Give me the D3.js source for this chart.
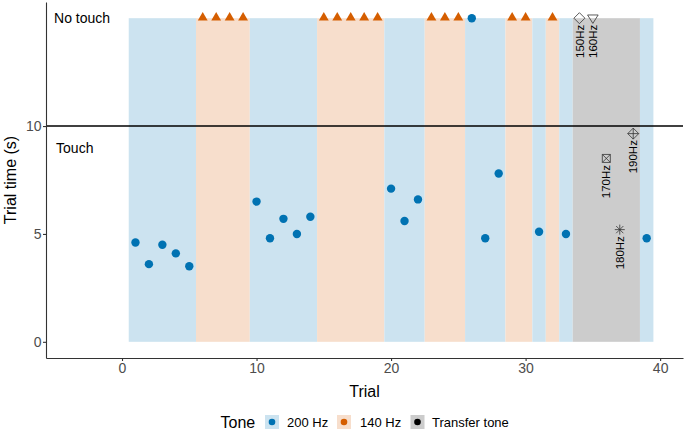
<!DOCTYPE html>
<html>
<head>
<meta charset="utf-8">
<script src="https://cdn.jsdelivr.net/npm/d3@7"></script>
<style>
  body { margin: 0; background: #fff; }
  svg { font-family: "Liberation Sans", Arial, sans-serif; }
</style>
</head>
<body>
<div id="chart"></div>
<script>
// trial blocks (background shading)
var blockStart = [0.5, 5.5, 9.5, 14.5, 19.5, 22.5, 25.5, 28.5, 30.5, 31.5, 32.5, 33.5, 38.5];
var blockEnd   = [5.5, 9.5, 14.5, 19.5, 22.5, 25.5, 28.5, 30.5, 31.5, 32.5, 33.5, 38.5, 39.5];
var blockTone  = ["200", "140", "200", "140", "200", "140", "200", "140", "200", "140", "200", "transfer", "200"];

// 200 Hz trials
var trials200 = [1, 2, 3, 4, 5, 10, 11, 12, 13, 14, 20, 21, 22, 26, 27, 28, 31, 33, 39];
var times200  = [4.6, 3.6, 4.5, 4.1, 3.5, 6.5, 4.8, 5.7, 5.0, 5.8, 7.1, 5.6, 6.6, 15, 4.8, 7.8, 5.1, 5.0, 4.8];

// 140 Hz trials (all no touch)
var trials140 = [6, 7, 8, 9, 15, 16, 17, 18, 19, 23, 24, 25, 29, 30, 32];
var times140  = [15, 15, 15, 15, 15, 15, 15, 15, 15, 15, 15, 15, 15, 15, 15];

// transfer tones
var trialsTr = [34, 35, 36, 37, 38];
var timesTr  = [15, 15, 8.5, 5.2, 9.65];
var labelsTr = ["150Hz", "160Hz", "170Hz", "180Hz", "190Hz"];
var shapesTr = ["diamond", "triDown", "squareX", "asterisk", "diamondPlus"];

var xTicks = [0, 10, 20, 30, 40];
var yTicks = [0, 5, 10];
var legendLabels = ["200 Hz", "140 Hz", "Transfer tone"];

var W = 685, H = 430;
var margin = {top: 2, right: 2, bottom: 72, left: 46},
    width = W - margin.left - margin.right,
    height = H - margin.top - margin.bottom;

var fills = {"200": "#cce3f0", "140": "#f7decc", "transfer": "#cccccc"};
var dots = ["#0072B2", "#D55E00", "#000000"];

var svg = d3.select("#chart")
  .append("svg")
    .attr("width", W)
    .attr("height", H);

var g = svg.append("g")
    .attr("transform", "translate(" + margin.left + "," + margin.top + ")");

var x = d3.scaleLinear().domain([-5.65, 41.7]).range([0, width]);
var y = d3.scaleLinear().domain([-0.75, 15.75]).range([height, 0]);

// background blocks
g.selectAll(".block")
  .data(blockStart)
  .enter()
  .append("rect")
    .attr("x", function(d) { return x(d); })
    .attr("width", function(d, i) { return x(blockEnd[i]) - x(d); })
    .attr("y", y(15))
    .attr("height", y(0) - y(15))
    .attr("fill", function(d, i) { return fills[blockTone[i]]; });

// touch threshold
g.append("line")
  .attr("x1", 0).attr("x2", width)
  .attr("y1", y(10)).attr("y2", y(10))
  .attr("stroke", "#000")
  .attr("stroke-width", 1.4);

g.append("text")
  .attr("x", x(-5.05))
  .attr("y", y(15))
  .attr("dy", "0.35em")
  .style("font-size", "14px")
  .text("No touch");

g.append("text")
  .attr("x", x(-4.9))
  .attr("y", y(9.0))
  .attr("dy", "0.35em")
  .style("font-size", "14px")
  .text("Touch");

// 200 Hz points
g.selectAll(".p200")
  .data(trials200)
  .enter()
  .append("circle")
    .attr("cx", function(d) { return x(d); })
    .attr("cy", function(d, i) { return y(times200[i]); })
    .attr("r", 4.2)
    .attr("fill", dots[0]);

// 140 Hz triangles
g.selectAll(".p140")
  .data(trials140)
  .enter()
  .append("path")
    .attr("d", d3.symbol().type(d3.symbolTriangle).size(42))
    .attr("transform", function(d, i) { return "translate(" + x(d) + "," + (y(times140[i]) - 0.6) + ")"; })
    .attr("fill", dots[1]);

// transfer tone shapes
function shapePath(s) {
  var p = d3.path();
  if (s == "diamond") {
    p.moveTo(0, -5.5); p.lineTo(5.5, 0); p.lineTo(0, 5.5); p.lineTo(-5.5, 0); p.closePath();
  } else if (s == "triDown") {
    p.moveTo(-5.3, -3.2); p.lineTo(5.3, -3.2); p.lineTo(0, 5.2); p.closePath();
  } else if (s == "squareX") {
    p.rect(-4, -4, 8, 8);
    p.moveTo(-4, -4); p.lineTo(4, 4); p.moveTo(4, -4); p.lineTo(-4, 4);
  } else if (s == "asterisk") {
    p.moveTo(-5, 0); p.lineTo(5, 0); p.moveTo(0, -5); p.lineTo(0, 5);
    p.moveTo(-3.6, -3.6); p.lineTo(3.6, 3.6); p.moveTo(3.6, -3.6); p.lineTo(-3.6, 3.6);
  } else {
    p.moveTo(0, -5.5); p.lineTo(5.5, 0); p.lineTo(0, 5.5); p.lineTo(-5.5, 0); p.closePath();
    p.moveTo(-5.5, 0); p.lineTo(5.5, 0); p.moveTo(0, -5.5); p.lineTo(0, 5.5);
  }
  return p.toString();
}

g.selectAll(".ptr")
  .data(trialsTr)
  .enter()
  .append("path")
    .attr("d", function(d, i) { return shapePath(shapesTr[i]); })
    .attr("transform", function(d, i) { return "translate(" + x(d) + "," + y(timesTr[i]) + ")"; })
    .attr("fill", "none")
    .attr("stroke", "#333")
    .attr("stroke-width", 0.8);

g.selectAll(".ltr")
  .data(trialsTr)
  .enter()
  .append("text")
    .attr("transform", function(d, i) {
      return "translate(" + x(d) + "," + (y(timesTr[i]) + 6.5) + ") rotate(-90)";
    })
    .attr("dy", "0.36em")
    .style("text-anchor", "end")
    .style("font-size", "11.5px")
    .text(function(d, i) { return labelsTr[i]; });

// axes
var xAxis = g.append("g")
  .attr("transform", "translate(0," + height + ")")
  .call(d3.axisBottom(x).tickValues(xTicks).tickSize(3).tickSizeOuter(0).tickPadding(2).tickFormat(d3.format("d")));

var yAxis = g.append("g")
  .call(d3.axisLeft(y).tickValues(yTicks).tickSize(3).tickSizeOuter(0).tickPadding(1.5).tickFormat(d3.format("d")));

[xAxis, yAxis].forEach(function(a) {
  a.select(".domain").attr("stroke", "#333").attr("stroke-width", 1.1);
  a.selectAll(".tick line").attr("stroke", "#333").attr("stroke-width", 1.1);
  a.selectAll(".tick text")
    .attr("fill", "#4d4d4d")
    .style("font-size", "14px")
    .style("font-family", "Liberation Sans, Arial, sans-serif");
});

// axis titles
svg.append("text")
  .attr("x", margin.left + width / 2)
  .attr("y", 397)
  .style("text-anchor", "middle")
  .style("font-size", "16px")
  .text("Trial");

svg.append("text")
  .attr("transform", "translate(15.5," + (margin.top + height / 2) + ") rotate(-90)")
  .style("text-anchor", "middle")
  .style("font-size", "16px")
  .text("Trial time (s)");

// legend
svg.append("text")
  .attr("x", 220.5)
  .attr("y", 427.5)
  .style("font-size", "16px")
  .text("Tone");

var keyX = [265, 337, 410.5];
var labX = [287, 360, 432];
var keyFill = [fills["200"], fills["140"], fills["transfer"]];

var leg = svg.selectAll(".leg")
  .data(legendLabels)
  .enter()
  .append("g");

leg.append("rect")
  .attr("x", function(d, i) { return keyX[i]; })
  .attr("y", 415)
  .attr("width", 14)
  .attr("height", 14)
  .attr("fill", function(d, i) { return keyFill[i]; });

leg.append("circle")
  .attr("cx", function(d, i) { return keyX[i] + 7; })
  .attr("cy", 422)
  .attr("r", 3.3)
  .attr("fill", function(d, i) { return dots[i]; });

leg.append("text")
  .attr("x", function(d, i) { return labX[i]; })
  .attr("y", 426.5)
  .style("font-size", "13px")
  .text(function(d) { return d; });
</script>
</body>
</html>
